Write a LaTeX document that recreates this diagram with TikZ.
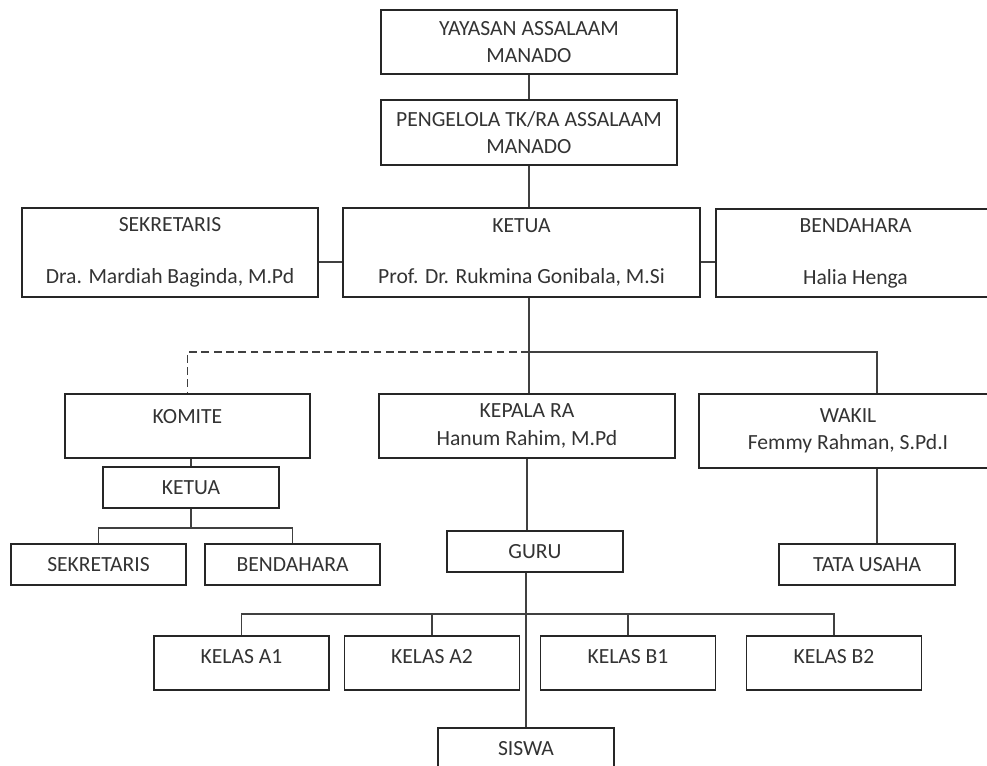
\documentclass[tikz,border=0pt]{standalone}
\usepackage{fontspec}
\setmainfont{Carlito}
\begin{document}
\begin{tikzpicture}[
    x=0.02cm, y=-0.02cm,
    orgbox/.style={
        rectangle,
        draw=black!85,
        line width=1pt,
        inner sep=0pt,
        align=center,
        text=black!80,
        font=\fontsize{12.3}{15.5}\selectfont
    },
    link/.style={
        draw=black!75,
        line width=0.75pt
    },
    dashlink/.style={
        link,
        dash pattern=on 4.5pt off 2.5pt
    }
]

\useasboundingbox (0,0) rectangle (987,765);

% Top of the foundation
\node[orgbox, minimum width=5.92cm, minimum height=1.28cm] (yayasan) at (529,42) {YAYASAN ASSALAAM\\MANADO};
\node[orgbox, minimum width=5.92cm, minimum height=1.3cm] (pengelola) at (529,132.5) {PENGELOLA TK/RA ASSALAAM\\MANADO};

% Board
\node[orgbox, minimum width=5.92cm, minimum height=1.78cm] (sekretaris) at (170,252.5) {SEKRETARIS\\[14pt]Dra. Mardiah Baginda, M.Pd};
\node[orgbox, minimum width=7.14cm, minimum height=1.78cm] (ketua) at (521.5,252.5) {KETUA\\[14pt]Prof. Dr. Rukmina Gonibala, M.Si};
\node[orgbox, minimum width=5.58cm, minimum height=1.76cm] (bendahara) at (855.5,253) {BENDAHARA\\[14pt]Halia Henga};

% Second level
\node[orgbox, minimum width=4.9cm, minimum height=1.28cm, text depth=0.4cm] (komite) at (187.5,426) {KOMITE};
\node[orgbox, minimum width=5.92cm, minimum height=1.28cm] (kepala) at (527,426) {KEPALA RA\\Hanum Rahim, M.Pd};
\node[orgbox, minimum width=5.96cm, minimum height=1.48cm] (wakil) at (848,431) {WAKIL\\Femmy Rahman, S.Pd.I};

% Committee
\node[orgbox, minimum width=3.52cm, minimum height=0.82cm] (ketuakomite) at (191,487.5) {KETUA};
\node[orgbox, minimum width=3.5cm, minimum height=0.82cm] (sekkomite) at (98.5,564.5) {SEKRETARIS};
\node[orgbox, minimum width=3.5cm, minimum height=0.82cm] (bendkomite) at (292.5,564.5) {BENDAHARA};

% Staff
\node[orgbox, minimum width=3.52cm, minimum height=0.82cm] (guru) at (535,551.5) {GURU};
\node[orgbox, minimum width=3.52cm, minimum height=0.82cm] (tatausaha) at (867,564.5) {TATA USAHA};

% Classes
\node[orgbox, minimum width=3.5cm, minimum height=1.08cm, text depth=0.27cm] (kelasa1) at (241.5,663) {KELAS A1};
\node[orgbox, minimum width=3.5cm, minimum height=1.08cm, text depth=0.27cm] (kelasa2) at (432,663) {KELAS A2};
\node[orgbox, minimum width=3.5cm, minimum height=1.08cm, text depth=0.27cm] (kelasb1) at (628,663) {KELAS B1};
\node[orgbox, minimum width=3.5cm, minimum height=1.08cm, text depth=0.27cm] (kelasb2) at (834,663) {KELAS B2};

\node[orgbox, minimum width=3.52cm, minimum height=0.82cm] (siswa) at (526,748.5) {SISWA};

% Junctions
\coordinate (side) at (0,262);
\coordinate (stem) at (529,352);
\coordinate (wakiltap) at (877,0);
\coordinate (combus) at (191,528);
\coordinate (classbus) at (528,614);

% Connectors
\draw[link] (yayasan) -- (pengelola);
\draw[link] (pengelola.south) -- (pengelola.south |- ketua.north);
\draw[link] (sekretaris.east |- side) -- (ketua.west |- side);
\draw[link] (ketua.east |- side) -- (bendahara.west |- side);

\draw[link] (stem |- ketua.south) -- (stem |- kepala.north);
\draw[dashlink] (stem) -| (komite.north);
\draw[link] (stem) -| (wakiltap |- wakil.north);

\draw[link] (ketuakomite.north |- komite.south) -- (ketuakomite.north);
\draw[link] (ketuakomite.south) -- (combus);
\draw[link] (sekkomite.north) |- (combus) -| (bendkomite.north);

\draw[link] (kepala.south) -- (kepala.south |- guru.north);
\draw[link] (wakiltap |- wakil.south) -- (wakiltap |- tatausaha.north);

\draw[link] (siswa.north |- guru.south) -- (siswa.north);
\draw[link] (kelasa1.north) |- (classbus) -| (kelasb2.north);
\draw[link] (kelasa2.north) -- (kelasa2.north |- classbus);
\draw[link] (kelasb1.north) -- (kelasb1.north |- classbus);

\end{tikzpicture}
\end{document}
